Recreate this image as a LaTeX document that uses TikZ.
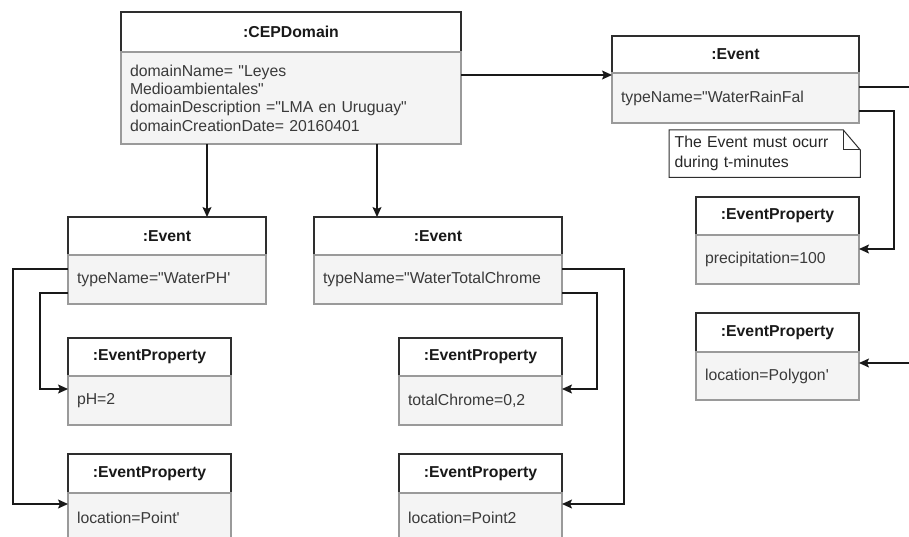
\documentclass[tikz,border=0pt]{standalone}
\usepackage{fontspec}
\setmainfont{Liberation Sans}[Ligatures=TeXOff]
\usetikzlibrary{positioning,arrows.meta}
\definecolor{objfill}{HTML}{F4F4F4}
\definecolor{objline}{HTML}{2E2E2E}
\definecolor{rowline}{HTML}{9A9A9A}
\definecolor{rowtext}{HTML}{3A3A3A}

\begin{document}
\begin{tikzpicture}[x=1pt,y=-1pt,line width=1.3pt,
                    font=\fontsize{15.8}{18.3}\selectfont,
                    >={Stealth[length=10pt,width=9pt,inset=2pt]}]
  \tikzstyle{head}=[draw=objline,fill=white,text=black!90,anchor=north west,
                    minimum height=38pt,inner sep=0pt,outer sep=0pt,font=\fontsize{15.8}{18.3}\selectfont\bfseries]
  \tikzstyle{row}=[draw=rowline,fill=objfill,text=rowtext,align=left,
                   inner xsep=9pt,inner ysep=0pt,outer sep=0pt,minimum height=49pt]
  \tikzstyle{link}=[->,draw=black!90]

  \useasboundingbox (0,0) rectangle (909,537);
  \clip (0,0) rectangle (909,537);

	% domain and the three events
	\node[head,minimum width=340pt,minimum height=40pt]	(cep) at (121,12)	{:CEPDomain};
	\node[row,text width=322pt,minimum height=92pt]	(cepr) [below=0pt of cep]
		{domainName= "Leyes\\Medioambientales"\\domainDescription ="LMA en Uruguay"\\domainCreationDate= 20160401};
	\node[head,minimum width=198pt]	(ev1) at (68,217)	{:Event};
	\node[row,text width=180pt]	(ev1r) [below=0pt of ev1]	{typeName="WaterPH'};
	\node[head,minimum width=248pt]	(ev2) at (314,217)	{:Event};
	\node[row,text width=230pt]	(ev2r) [below=0pt of ev2]	{typeName="WaterTotalChrome};
	\node[head,minimum width=247pt,minimum height=37pt]	(ev3) at (612,36)	{:Event};
	\node[row,text width=229pt,minimum height=50pt]	(ev3r) [below=0pt of ev3]	{typeName="WaterRainFal};

	% properties
	\node[head,minimum width=163pt]	(ph) at (68,338)	{:EventProperty};
	\node[row,text width=145pt]	(phr) [below=0pt of ph]	{pH=2};
	\node[head,minimum width=163pt,minimum height=39pt]	(pt1) at (68,454)	{:EventProperty};
	\node[row,text width=145pt]	(pt1r) [below=0pt of pt1]	{location=Point'};
	\node[head,minimum width=163pt]	(chr) at (399,338)	{:EventProperty};
	\node[row,text width=145pt]	(chrr) [below=0pt of chr]	{totalChrome=0,2};
	\node[head,minimum width=163pt,minimum height=39pt]	(pt2) at (399,454)	{:EventProperty};
	\node[row,text width=145pt]	(pt2r) [below=0pt of pt2]	{location=Point2};
	\node[head,minimum width=163pt]	(prec) at (696,197)	{:EventProperty};
	\node[row,text width=145pt]	(precr) [below=0pt of prec]	{precipitation=100};
	\node[head,minimum width=163pt,minimum height=39pt]	(poly) at (696,313)	{:EventProperty};
	\node[row,text width=145pt,minimum height=48pt]	(polyr) [below=0pt of poly]	{location=Polygon'};

	% note
	\node[anchor=north west,minimum width=190pt,minimum height=46pt,inner xsep=5pt,
	      text width=180pt,align=left,text=black!85,font=\fontsize{15.8}{20}\selectfont]
		(note) at (669,130)	{The Event must ocurr\\during t-minutes};
	\draw[line width=1pt,draw=objline] (note.north west) -- ([xshift=-17pt]note.north east)
		-- ([yshift=-20pt]note.north east) -- (note.south east) -- (note.south west) -- cycle;
	\draw[line width=1pt,draw=objline] ([xshift=-17pt]note.north east) |- ([yshift=-20pt]note.north east);

	% links
	\draw[link] ([yshift=-2pt]cepr.east |- ev3r.north west) -- ([yshift=-2pt]ev3r.north west);
	\draw[link] ([xshift=40pt]ev1.north |- cepr.south) -- ([xshift=40pt]ev1.north);
	\draw[link] ([xshift=-61pt]ev2.north |- cepr.south) -- ([xshift=-61pt]ev2.north);
	\draw[link] ([yshift=-38pt]ev1r.north west) -- ++(-28,0) |- ([yshift=-13pt]phr.north west);
	\draw[link] ([yshift=-14pt]ev1r.north west) -- ++(-55,0) |- ([yshift=-11pt]pt1r.north west);
	\draw[link] ([yshift=-38pt]ev2r.north east) -- ++(35,0) |- ([yshift=-13pt]chrr.north east);
	\draw[link] ([yshift=-14pt]ev2r.north east) -- ++(62,0) |- ([yshift=-11pt]pt2r.north east);
	\draw[link] ([yshift=-38pt]ev3r.north east) -- ++(35,0) |- ([yshift=-14pt]precr.north east);
	\draw[link] ([yshift=-14pt]ev3r.north east) -- ++(75,0) |- ([yshift=-11pt]polyr.north east);

\end{tikzpicture}
\end{document}
